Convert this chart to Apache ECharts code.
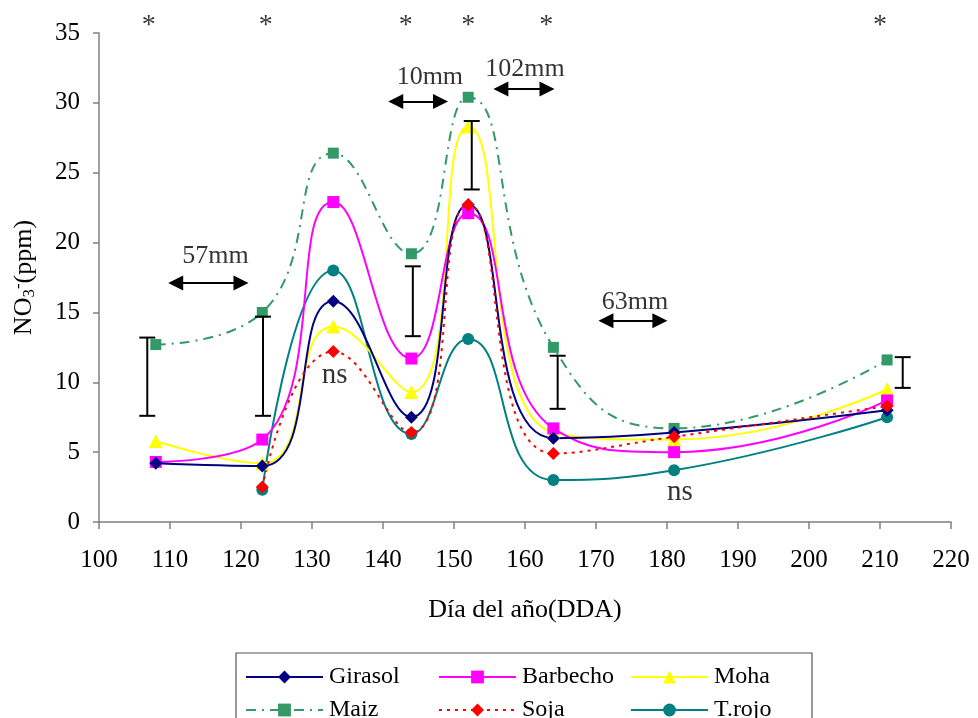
<!DOCTYPE html>
<html>
<head>
<meta charset="utf-8">
<script src="https://cdn.jsdelivr.net/npm/echarts@6/dist/echarts.min.js"></script>
<style>
  html, body { margin: 0; padding: 0; background: #fff; }
  #chart { width: 978px; height: 718px; }
</style>
</head>
<body>
<div id="chart"></div>
<script>
// Sampling days (day of year) and nitrate concentrations (ppm) per crop
const daysAll = [108, 123, 133, 144, 152, 164, 181, 211];
const daysLate = [123, 133, 144, 152, 164, 181, 211];

const girasol  = [4.2, 4.0, 15.8, 7.5, 22.7, 6.0, 6.4, 8.0];
const barbecho = [4.3, 5.9, 22.9, 11.7, 22.1, 6.7, 5.0, 8.7];
const moha     = [5.8, 4.2, 14.0, 9.3, 28.3, 6.4, 5.9, 9.5];
const maiz     = [12.7, 15.0, 26.4, 19.2, 30.4, 12.5, 6.7, 11.6];
const soja     = [2.5, 12.2, 6.4, 22.7, 4.9, 6.1, 8.3];
const trojo    = [2.3, 18.0, 6.3, 13.1, 3.0, 3.7, 7.5];

// LSD bars: position (day) and lower/upper ends
const lsdDay  = [106.8, 123.1, 144.2, 152.5, 164.6, 213.2];
const lsdLow  = [7.6, 7.6, 13.3, 23.8, 8.1, 9.6];
const lsdHigh = [13.2, 14.7, 18.3, 28.7, 11.9, 11.8];

// Significance marks above the plot
const starDay = [107, 123.5, 143.2, 152, 163, 210];
const starY = 35.5;

// Irrigation / rainfall arrows (centres of the arrowheads)
const arrowFrom  = [110.8, 141.8, 156.6, 171.4];
const arrowTo    = [120.0, 148.1, 163.1, 179.0];
const arrowLevel = [17.1, 30.1, 31.0, 14.4];

// Annotations
const noteText = ['57mm', '10mm', '102mm', '63mm', 'ns', 'ns'];
const noteDay  = [116.4, 146.6, 160.0, 175.5, 133.2, 181.8];
const noteY    = [19.0, 31.85, 32.4, 15.75, 10.5, 2.1];

const seriesNames = ['Girasol', 'Barbecho', 'Moha', 'Maiz', 'Soja', 'T.rojo'];
const FONT = '"Liberation Serif", "Times New Roman", serif';

function pairs(xs, ys) { return xs.map((x, i) => [x, ys[i]]); }

const SMOOTH = 0.5;

function lineSeries(name, data, color, symbol, size, lineType) {
  return {
    name: name,
    type: 'line',
    data: data,
    smooth: SMOOTH,
    symbol: symbol,
    symbolSize: size,
    showSymbol: true,
    lineStyle: { color: color, width: 2, type: lineType || 'solid' },
    itemStyle: { color: color },
    emphasis: { disabled: true },
    animation: false,
    z: 3
  };
}

const series = [
  lineSeries('Maiz', pairs(daysAll, maiz), '#339966', 'rect', 11, [10, 6, 2, 6]),
  lineSeries('T.rojo', pairs(daysLate, trojo), '#008080', 'circle', 12),
  lineSeries('Moha', pairs(daysAll, moha), '#FFFF00', 'triangle', 14),
  lineSeries('Barbecho', pairs(daysAll, barbecho), '#FF00FF', 'rect', 12),
  lineSeries('Girasol', pairs(daysAll, girasol), '#000080', 'diamond', 13),
  lineSeries('Soja', pairs(daysLate, soja), '#FF0000', 'diamond', 13, [3, 5]),
  {
    name: 'lsd',
    type: 'custom',
    data: lsdDay.map((d, i) => [d, lsdLow[i], lsdHigh[i]]),
    animation: false,
    z: 5,
    renderItem: function (params, api) {
      const lo = api.coord([api.value(0), api.value(1)]);
      const hi = api.coord([api.value(0), api.value(2)]);
      const w = 8;
      const st = { stroke: '#000', lineWidth: 2 };
      return {
        type: 'group',
        children: [
          { type: 'line', shape: { x1: lo[0], y1: lo[1], x2: hi[0], y2: hi[1] }, style: st },
          { type: 'line', shape: { x1: lo[0] - w, y1: lo[1], x2: lo[0] + w, y2: lo[1] }, style: st },
          { type: 'line', shape: { x1: hi[0] - w, y1: hi[1], x2: hi[0] + w, y2: hi[1] }, style: st }
        ]
      };
    }
  },
  {
    name: 'arrows',
    type: 'lines',
    coordinateSystem: 'cartesian2d',
    data: arrowFrom.map((a, i) => ({ coords: [[a, arrowLevel[i]], [arrowTo[i], arrowLevel[i]]] })),
    symbol: ['triangle', 'triangle'],
    symbolSize: 15,
    lineStyle: { color: '#000', width: 2, opacity: 1 },
    itemStyle: { color: '#000' },
    animation: false,
    z: 5
  },
  {
    name: 'stars',
    type: 'scatter',
    data: starDay.map(d => [d, starY]),
    symbolSize: 0,
    clip: false,
    silent: true,
    animation: false,
    label: { show: true, position: 'inside', formatter: '*', color: '#000', fontFamily: FONT, fontSize: 28 }
  },
  {
    name: 'notes',
    type: 'scatter',
    data: noteText.map((t, i) => ({ name: t, value: [noteDay[i], noteY[i]] })),
    symbolSize: 0,
    clip: false,
    silent: true,
    animation: false,
    label: {
      show: true, position: 'inside', color: '#000', fontFamily: FONT, fontSize: 26,
      formatter: p => p.name === 'ns' ? '{n|ns}' : p.name,
      rich: { n: { fontFamily: FONT, fontSize: 29, color: '#000' } }
    }
  }
];

// One legend block per entry so the columns line up like a table
const legendCols = [245, 438, 630];
const legendRows = [665, 698];
const legends = seriesNames.map((n, i) => ({
  data: [n],
  left: legendCols[i % 3],
  top: legendRows[Math.floor(i / 3)],
  padding: 0,
  itemWidth: 77,
  itemHeight: 16,
  selectedMode: false,
  textStyle: { fontFamily: FONT, fontSize: 24, color: '#000', padding: [0, 0, 0, 1] }
}));

const chart = echarts.init(document.getElementById('chart'), null, { renderer: 'canvas' });
chart.setOption({
  backgroundColor: '#fff',
  animation: false,
  grid: { left: 99, right: 27, top: 33, bottom: 196, containLabel: false },
  xAxis: {
    type: 'value',
    min: 100, max: 220, interval: 10,
    name: 'Día del año(DDA)',
    nameLocation: 'middle',
    nameGap: 75,
    nameTextStyle: { fontFamily: FONT, fontSize: 26, color: '#000' },
    axisLine: { lineStyle: { color: '#808080', width: 1.5 } },
    axisTick: { show: true, length: 7, inside: false, lineStyle: { color: '#808080', width: 1.5 } },
    axisLabel: { fontFamily: FONT, fontSize: 25, color: '#000', margin: 26 },
    splitLine: { show: false }
  },
  yAxis: {
    type: 'value',
    min: 0, max: 35, interval: 5,
    name: '{b|NO}{s|3}{p|-}{b|(ppm)}',
    nameLocation: 'middle',
    nameGap: 60,
    nameRotate: 90,
    nameTextStyle: {
      fontFamily: FONT, fontSize: 26, color: '#000',
      rich: {
        b: { fontFamily: FONT, fontSize: 26, color: '#000' },
        s: { fontFamily: FONT, fontSize: 17, color: '#000', padding: [10, 0, 0, 0] },
        p: { fontFamily: FONT, fontSize: 17, color: '#000', padding: [0, 0, 12, 0] }
      }
    },
    axisLine: { show: true, lineStyle: { color: '#808080', width: 1.5 } },
    axisTick: { show: true, length: 6, inside: false, lineStyle: { color: '#808080', width: 1.5 } },
    axisLabel: { fontFamily: FONT, fontSize: 25, color: '#000', margin: 19 },
    splitLine: { show: false }
  },
  legend: legends,
  graphic: [{
    type: 'rect',
    shape: { x: 236, y: 653, width: 576, height: 70 },
    style: { fill: 'none', stroke: '#555', lineWidth: 1.2 },
    z: 0
  }],
  series: series
});
</script>
</body>
</html>
